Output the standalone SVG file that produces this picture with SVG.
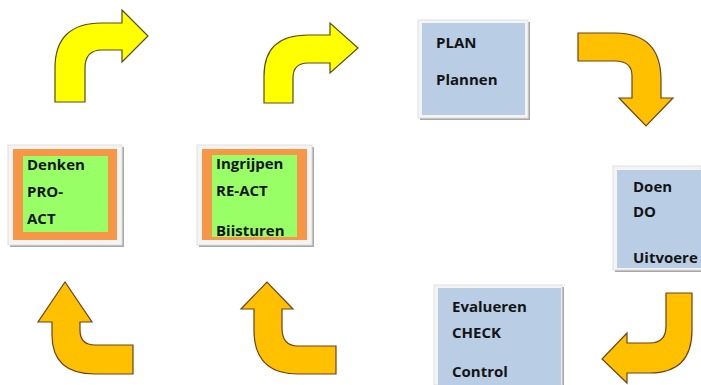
<svg xmlns="http://www.w3.org/2000/svg" width="701" height="385" viewBox="0 0 701 385">
<style>
.yel{fill:#ffff00;stroke:#5c4a1e;stroke-width:1.2}
.org{fill:#ffc000;stroke:#6b4220;stroke-width:1.2}
.frame{fill:#f4f4f4;stroke:#e0e0e0;stroke-width:1}
.shadow{fill:#a8a8a8}
.ob{fill:#f79646}
.gr{fill:#99ff66}
.bl{fill:#b9cde5}
.t{font-family:"Open Sans","Liberation Sans",sans-serif;font-weight:bold;font-size:15px;fill:#141414}
</style>
<rect width="701" height="385" fill="#ffffff"/>
<g id="connectors">
<path class="yel" d="M55,102 L55,68 Q55,23 102,23 L122,23 L122,10 L148,36 L122,62 L122,50 L102,50 Q85,50 85,68 L85,102 Z"/>
<path class="yel" d="M264,103 L264,76 Q264,35 308,35 L330,35 L330,23 L358,48 L330,73 L330,63 L308,63 Q293,63 293,78 L293,103 Z"/>
<path class="org" d="M578,33 L615,33 Q661,33 661,80 L661,98 L673,98 L646,126 L619,98 L632,98 L632,76 Q632,61 615,61 L578,61 Z"/>
<path class="org" d="M666,293 L692,293 L692,330 Q692,373 650,373 L627,373 L627,383 L602,359 L627,333 L627,343 L650,343 Q666,343 666,326 Z"/>
<path class="org" d="M336,346 L298,346 Q282,346 282,328 L282,309 L293,309 L267,282 L241,309 L254,309 L254,330 Q254,374 298,374 L336,374 Z"/>
<path class="org" d="M133,345 L95,345 Q80,345 80,330 L80,322 L92,322 L65,282 L38,322 L52,322 L52,335 Q52,374 95,374 L133,374 Z"/>
</g>
<g id="denken">
<rect class="shadow" x="10" y="147" width="114" height="100"/>
<rect class="frame" x="8" y="145" width="114" height="100"/>
<rect class="ob" x="13" y="149" width="104" height="91"/>
<rect class="gr" x="23" y="156" width="85" height="76"/>
<text class="t" x="27" y="170">Denken</text>
<text class="t" x="27" y="197">PRO-</text>
<text class="t" x="27" y="224">ACT</text>
</g>
<g id="ingrijpen">
<rect class="shadow" x="199" y="147" width="115" height="100"/>
<rect class="frame" x="197" y="145" width="115" height="100"/>
<rect class="ob" x="202" y="149" width="105" height="91"/>
<rect class="gr" x="212" y="155" width="85" height="82"/>
<text class="t" x="216" y="169">Ingrijpen</text>
<text class="t" x="216" y="196">RE-ACT</text>
<text class="t" x="216" y="236">Biisturen</text>
</g>
<g id="plan">
<rect class="shadow" x="420" y="22" width="110" height="98"/>
<rect class="frame" x="418" y="20" width="110" height="98"/>
<rect class="bl" x="422" y="23" width="103" height="92"/>
<text class="t" x="436" y="48">PLAN</text>
<text class="t" x="436" y="85">Plannen</text>
</g>
<g id="doen">
<rect class="shadow" x="615" y="168" width="86" height="104"/>
<rect class="frame" x="613" y="166" width="88" height="104"/>
<rect class="bl" x="617" y="170" width="84" height="98"/>
<text class="t" x="633" y="192">Doen</text>
<text class="t" x="633" y="217">DO</text>
<text class="t" x="633" y="263">Uitvoere</text>
</g>
<g id="evalueren">
<rect class="shadow" x="436" y="287" width="128" height="98"/>
<rect class="frame" x="434" y="285" width="128" height="100"/>
<rect class="bl" x="438" y="288" width="123" height="97"/>
<text class="t" x="452" y="312">Evalueren</text>
<text class="t" x="452" y="338">CHECK</text>
<text class="t" x="452" y="377">Control</text>
</g>
</svg>
